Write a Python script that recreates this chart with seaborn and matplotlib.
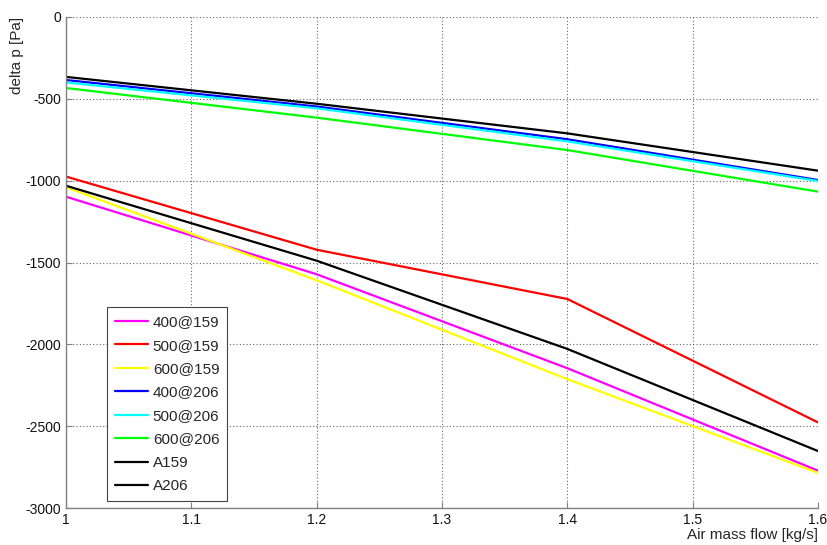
import matplotlib
matplotlib.use("Agg")
import matplotlib.pyplot as plt
import seaborn as sns
import pandas as pd

# ---- data ----
air_mass_flow = [1.0, 1.2, 1.4, 1.6]
series_names = ["400@159", "500@159", "600@159", "400@206", "500@206", "600@206", "A159", "A206"]
dp_400_159 = [-1098, -1572, -2146, -2772]
dp_500_159 = [-975, -1422, -1723, -2477]
dp_600_159 = [-1040, -1609, -2213, -2786]
dp_400_206 = [-385, -547, -747, -996]
dp_500_206 = [-400, -558, -760, -1002]
dp_600_206 = [-434, -615, -813, -1067]
dp_A159 = [-1031, -1489, -2028, -2652]
dp_A206 = [-366, -530, -711, -939]
series_values = [dp_400_159, dp_500_159, dp_600_159, dp_400_206,
                 dp_500_206, dp_600_206, dp_A159, dp_A206]
series_colors = ["#ff00ff", "#ff0000", "#ffff00", "#0000ff",
                 "#00ffff", "#00ff00", "#000000", "#000000"]
x_ticks = [1.0, 1.1, 1.2, 1.3, 1.4, 1.5, 1.6]
x_tick_labels = ["1", "1.1", "1.2", "1.3", "1.4", "1.5", "1.6"]
y_ticks = [-3000, -2500, -2000, -1500, -1000, -500, 0]
y_tick_labels = ["-3000", "-2500", "-2000", "-1500", "-1000", "-500", "0"]

rows = []
for name, vals in zip(series_names, series_values):
    for xv, yv in zip(air_mass_flow, vals):
        rows.append({"flow": xv, "dp": yv, "series": name})
df = pd.DataFrame(rows)

sns.set_style("white")
plt.rcParams["font.family"] = ["Liberation Sans", "DejaVu Sans"]

fig = plt.figure(figsize=(8.28, 5.45), dpi=100)
ax = fig.add_axes([66 / 828, 1 - 508 / 545, 752 / 828, 491 / 545])

palette = dict(zip(series_names, series_colors))
sns.lineplot(data=df, x="flow", y="dp", hue="series", hue_order=series_names,
             palette=palette, estimator=None, sort=False, linewidth=1.6,
             legend=False, ax=ax)

ax.set_xlim(1.0, 1.6)
ax.set_ylim(-3000, 0)
ax.set_xticks(x_ticks)
ax.set_xticklabels(x_tick_labels)
ax.set_yticks(y_ticks)
ax.set_yticklabels(y_tick_labels)

ax.grid(True, linestyle=(0, (1, 2)), color="#666666", linewidth=0.8)
ax.set_axisbelow(True)
for s in ["top", "right"]:
    ax.spines[s].set_visible(False)
for s in ["left", "bottom"]:
    ax.spines[s].set_color("#808080")
    ax.spines[s].set_linewidth(1.0)
ax.tick_params(axis="both", direction="in", length=4, color="#808080",
               labelsize=10, labelcolor="#111111", width=0.8,
               bottom=True, left=True)

ax.set_xlabel("Air mass flow [kg/s]", loc="right", fontsize=11, labelpad=1)
ax.set_ylabel("delta p [Pa]", loc="top", fontsize=11)
ax.yaxis.set_label_coords((24 - 66) / 752, 1.0)

handles = ax.get_lines()[:len(series_names)]
leg = ax.legend(handles, series_names, loc="lower left",
                bbox_to_anchor=(41 / 752, 7 / 491), borderaxespad=0,
                fontsize=11, frameon=True, fancybox=False,
                handlelength=2.2, handletextpad=0.3, labelspacing=0.62,
                borderpad=0.5)
leg.get_frame().set_edgecolor("#444444")
leg.get_frame().set_linewidth(0.8)
leg.get_frame().set_facecolor("white")
leg.get_frame().set_alpha(1.0)

fig.savefig("out.png", dpi=100)
